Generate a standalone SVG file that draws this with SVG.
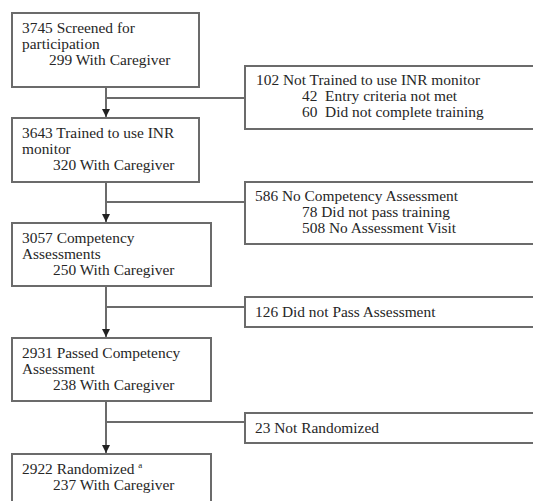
<svg xmlns="http://www.w3.org/2000/svg" width="533" height="501" viewBox="0 0 533 501">
<defs>
<style>
.box{fill:#fff;stroke:#6b6b6b;stroke-width:2}
.ln{fill:none;stroke:#6b6b6b;stroke-width:2}
text{font-family:"Liberation Serif","Times New Roman",serif;font-size:15.4px;fill:#262626}
.sup{font-size:9px}
</style>
<marker id="ah" viewBox="0 0 10 10" refX="10" refY="5" markerWidth="4" markerHeight="4" orient="auto" markerUnits="strokeWidth">
<path d="M0,0 L10,5 L0,10 z" fill="#222"/>
</marker>
</defs>
<rect width="533" height="501" fill="#fff"/>
<g id="connectors">
<line class="ln" x1="106" y1="87" x2="106" y2="117" marker-end="url(#ah)"/>
<line class="ln" x1="106" y1="98" x2="245" y2="98"/>
<line class="ln" x1="106" y1="182" x2="106" y2="222" marker-end="url(#ah)"/>
<line class="ln" x1="106" y1="202" x2="245" y2="202"/>
<line class="ln" x1="106" y1="286" x2="106" y2="337" marker-end="url(#ah)"/>
<line class="ln" x1="106" y1="307" x2="245" y2="307"/>
<line class="ln" x1="106" y1="401" x2="106" y2="453" marker-end="url(#ah)"/>
<line class="ln" x1="106" y1="422" x2="245" y2="422"/>
</g>
<g id="screened">
<rect class="box" x="12" y="13" width="187" height="74"/>
<text x="22" y="33">3745 Screened for</text>
<text x="22" y="49">participation</text>
<text x="49" y="65">299 With Caregiver</text>
</g>
<g id="trained">
<rect class="box" x="12" y="118" width="187" height="64"/>
<text x="22" y="138">3643 Trained to use INR</text>
<text x="22" y="154">monitor</text>
<text x="53" y="170">320 With Caregiver</text>
</g>
<g id="competency">
<rect class="box" x="12" y="223" width="199" height="63"/>
<text x="22" y="243">3057 Competency</text>
<text x="22" y="259">Assessments</text>
<text x="53" y="275">250 With Caregiver</text>
</g>
<g id="passed">
<rect class="box" x="12" y="338" width="199" height="63"/>
<text x="22" y="358">2931 Passed Competency</text>
<text x="22" y="374">Assessment</text>
<text x="53" y="390">238 With Caregiver</text>
</g>
<g id="randomized">
<rect class="box" x="12" y="454" width="199" height="60"/>
<text x="22" y="474">2922 Randomized <tspan class="sup" dy="-6">a</tspan></text>
<text x="53" y="490">237 With Caregiver</text>
</g>
<g id="not-trained">
<rect class="box" x="245" y="66" width="300" height="63"/>
<text x="256" y="85">102 Not Trained to use INR monitor</text>
<text x="302" y="101" xml:space="preserve">42  Entry criteria not met</text>
<text x="302" y="117" xml:space="preserve">60  Did not complete training</text>
</g>
<g id="no-assessment">
<rect class="box" x="245" y="182" width="300" height="62"/>
<text x="255" y="201">586 No Competency Assessment</text>
<text x="302" y="217">78 Did not pass training</text>
<text x="302" y="233">508 No Assessment Visit</text>
</g>
<g id="not-pass">
<rect class="box" x="245" y="297" width="300" height="30"/>
<text x="255" y="317">126 Did not Pass Assessment</text>
</g>
<g id="not-randomized">
<rect class="box" x="245" y="413" width="300" height="30"/>
<text x="255" y="433">23 Not Randomized</text>
</g>
</svg>
